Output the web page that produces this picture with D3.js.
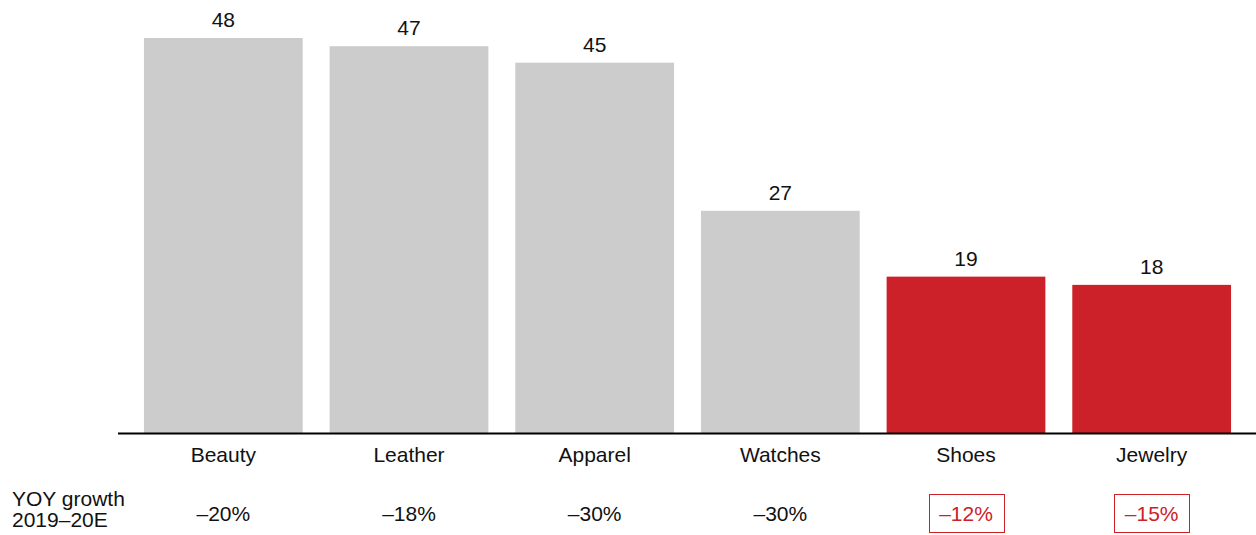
<!DOCTYPE html>
<html>
<head>
<meta charset="utf-8">
<script src="https://cdn.jsdelivr.net/npm/d3@7"></script>
<style>
  html, body { margin: 0; padding: 0; background: #fff; }
  svg { display: block; font-family: "Liberation Sans", Arial, sans-serif; }
</style>
</head>
<body>
<svg id="chart" width="1256" height="535"></svg>
<script>
// Category sales (index values) and year-over-year growth
const categories = ["Beauty", "Leather", "Apparel", "Watches", "Shoes", "Jewelry"];
const values = [48, 47, 45, 27, 19, 18];
const growthLabels = ["–20%", "–18%", "–30%", "–30%", "–12%", "–15%"];
const highlighted = ["Shoes", "Jewelry"];
const rowLabel = ["YOY growth", "2019–20E"];

const GREY = "#cccccc";
const RED = "#cc2128";
const FS = 21;

const svg = d3.select("#chart");

const x = d3.scaleBand()
  .domain(categories)
  .range([130.5, 1244.5])
  .paddingInner(0.145)
  .paddingOuter(0.0725);

const y = d3.scaleLinear()
  .domain([0, 48])
  .range([433, 38]);

const data = categories.map((c, i) => ({ cat: c, value: values[i], growth: growthLabels[i] }));
const isHi = d => highlighted.includes(d.cat);

// Bars
svg.append("g").selectAll("rect")
  .data(data)
  .join("rect")
  .attr("x", d => x(d.cat))
  .attr("y", d => y(d.value))
  .attr("width", x.bandwidth())
  .attr("height", d => y(0) - y(d.value))
  .attr("fill", d => isHi(d) ? RED : GREY);

// Value labels above bars
svg.append("g").selectAll("text")
  .data(data)
  .join("text")
  .attr("x", d => x(d.cat) + x.bandwidth() / 2)
  .attr("y", d => y(d.value) - 11)
  .attr("text-anchor", "middle")
  .attr("font-size", FS)
  .attr("fill", "#111")
  .text(d => d.value);

// Baseline
svg.append("line")
  .attr("x1", 118).attr("x2", 1256)
  .attr("y1", y(0) + 0.5).attr("y2", y(0) + 0.5)
  .attr("stroke", "#000")
  .attr("stroke-width", 2);

// Category axis labels
const xAxis = d3.axisBottom(x).tickSize(0).tickPadding(0);
const axisG = svg.append("g")
  .attr("transform", `translate(0, ${y(0)})`)
  .call(xAxis);
axisG.select(".domain").remove();
axisG.selectAll("text")
  .attr("dy", null)
  .attr("y", 28.5)
  .attr("font-size", FS)
  .attr("font-family", "Liberation Sans, Arial, sans-serif")
  .attr("fill", "#111");

// Growth row label
svg.append("text")
  .attr("x", 12)
  .attr("font-size", FS)
  .attr("fill", "#111")
  .selectAll("tspan")
  .data(rowLabel)
  .join("tspan")
  .attr("x", 12)
  .attr("y", (d, i) => 506 + i * 21)
  .text(d => d);

// Growth values, boxed for highlighted categories
const gRow = svg.append("g").selectAll("g")
  .data(data)
  .join("g");

gRow.append("text")
  .attr("x", d => x(d.cat) + x.bandwidth() / 2)
  .attr("y", 520.5)
  .attr("text-anchor", "middle")
  .attr("font-size", FS)
  .attr("fill", d => isHi(d) ? RED : "#111")
  .text(d => d.growth);

gRow.filter(isHi).each(function () {
  const t = d3.select(this).select("text").node().getBBox();
  const cx = t.x + t.width / 2;
  const w = Math.round(t.width + 21);
  d3.select(this).insert("rect", "text")
    .attr("x", Math.round(cx - w / 2) + 0.5)
    .attr("y", 494.5)
    .attr("width", w)
    .attr("height", 38)
    .attr("fill", "none")
    .attr("stroke", RED)
    .attr("stroke-width", 1);
});
</script>
</body>
</html>
